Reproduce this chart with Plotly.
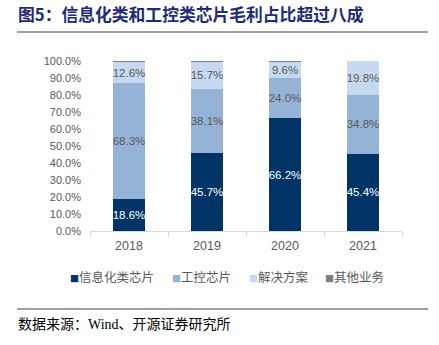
import plotly.graph_objects as go

years = ["2018", "2019", "2020", "2021"]
info_chips = [18.6, 45.7, 66.2, 45.4]
ctrl_chips = [68.3, 38.1, 24.0, 34.8]
solutions = [12.6, 15.7, 9.6, 19.8]
others = [0.5, 0.5, 0.2, 0.0]

series = [
    ("信息化类芯片", info_chips, "#003366", "white", True),
    ("工控芯片", ctrl_chips, "#95b3d7", "#595959", True),
    ("解决方案", solutions, "#c6d9f1", "#595959", True),
    ("其他业务", others, "#7f7f7f", "#595959", False),
]

W, H = 439, 345
L, R, T, B = 90, 37, 61, 114
pw, ph = W - L - R, H - T - B


def px(x):
    return (x - L) / pw


def py(y):
    return (H - B - y) / ph


fig = go.Figure()
for name, vals, color, tcolor, show in series:
    fig.add_trace(go.Bar(
        name=name, x=years, y=vals,
        marker=dict(color=color, line=dict(width=0)),
        text=[f"{v:.1f}%" for v in vals] if show else None,
        textposition="inside" if show else "none",
        insidetextanchor="middle",
        textangle=0,
        constraintext="none",
        textfont=dict(color=tcolor, size=11.5, family="Liberation Sans, Arial"),
        hoverinfo="skip",
        showlegend=False,
    ))

fig.update_layout(
    barmode="stack",
    bargap=0.59,
    width=W, height=H,
    margin=dict(l=L, r=R, t=T, b=B),
    paper_bgcolor="white", plot_bgcolor="white",
    font=dict(family="Liberation Sans, Arial", color="#595959", size=11),
    xaxis=dict(
        showline=True, linecolor="#d9d9d9", linewidth=1,
        ticks="outside", ticklen=5, tickcolor="#d9d9d9",
        tickson="boundaries",
        tickfont=dict(size=12.5, color="#595959"),
        ticklabelstandoff=3,
        fixedrange=True,
    ),
    yaxis=dict(
        range=[0, 100], dtick=10, ticksuffix=".0%",
        showgrid=False, zeroline=False, showline=False,
        tickfont=dict(size=11, color="#595959"),
        ticklabelstandoff=8,
        fixedrange=True,
    ),
    showlegend=False,
)

# Legend row: small coloured square followed by the series name
legend_x = [68, 170, 247, 323]
for (name, _, color, _, _), lx in zip(series, legend_x):
    fig.add_annotation(
        text=f"<span style='color:{color};font-size:9px'>■</span>{name}",
        xref="paper", yref="paper", x=px(lx), y=py(276), xanchor="left", yanchor="middle",
        showarrow=False, font=dict(size=12.5, color="#595959", family="Noto Sans CJK SC"),
    )

# Title, rule lines and source note
fig.add_annotation(
    text="<b>图5：信息化类和工控类芯片毛利占比超过八成</b>",
    xref="paper", yref="paper", x=px(16), y=py(14), xanchor="left", yanchor="middle",
    showarrow=False, font=dict(size=16.8, color="#1f2a78", family="Noto Sans CJK SC"),
)
fig.add_shape(type="line", xref="paper", yref="paper",
              x0=px(17), x1=px(428), y0=py(32), y1=py(32),
              line=dict(color="#404040", width=1))
fig.add_shape(type="line", xref="paper", yref="paper",
              x0=px(17), x1=px(428), y0=py(309), y1=py(309),
              line=dict(color="#808080", width=1.5))
fig.add_annotation(
    text="数据来源：Wind、开源证券研究所",
    xref="paper", yref="paper", x=px(16), y=py(324), xanchor="left", yanchor="middle",
    showarrow=False, font=dict(size=14, color="#000000", family="Liberation Serif, Noto Sans CJK SC"),
)

fig.write_html("out.html")
